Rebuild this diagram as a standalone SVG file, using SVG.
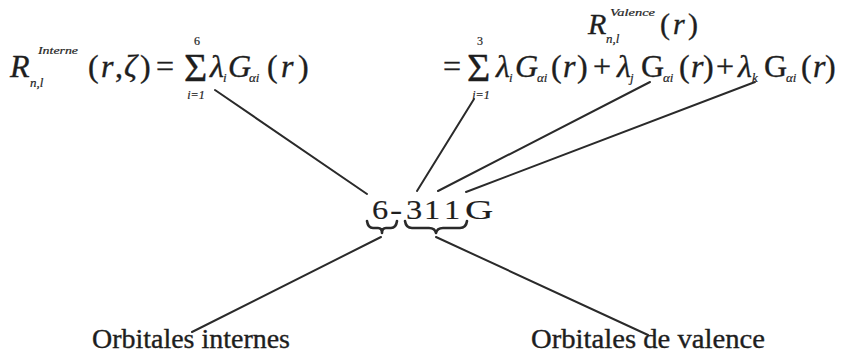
<svg xmlns="http://www.w3.org/2000/svg" width="845" height="353" viewBox="0 0 845 353">
<style>
text{font-family:"Liberation Serif","DejaVu Serif",serif;fill:#1e1e1e;stroke:#1e1e1e;stroke-width:0.35}
.it{font-style:italic}
.m{font-size:32px}
.sup{font-size:11px;font-style:italic;stroke-width:0.2}
.sub{font-size:13px;font-style:italic;stroke-width:0.2}
.lim{font-size:12px;stroke-width:0.2}
.sig{font-size:40px}
.lbl{font-size:27px}
.big{font-size:30px}
.c{font-size:27px;stroke-width:0.15}
.ln{stroke:#2a2a2a;stroke-width:2;fill:none;stroke-linecap:round}
.br{stroke:#2a2a2a;stroke-width:2.6;fill:none;stroke-linecap:round;stroke-linejoin:round}
</style>
<rect width="845" height="353" fill="#fff"/>
<g id="formula-interne">
<text class="m it" x="10" y="77">R</text>
<text class="sup" x="38" y="54" textLength="40" lengthAdjust="spacingAndGlyphs">Interne</text>
<text class="sub" x="30" y="87">n,l</text>
<text class="m" x="88" y="77">(</text>
<text class="m it" x="101" y="77">r</text>
<text class="m" x="115" y="77">,</text>
<text class="m it" x="124" y="77">ζ</text>
<text class="m" x="140" y="77">)</text>
<text class="m" x="156" y="77">=</text>
<text class="sig" x="184" y="81">Σ</text>
<text class="lim" x="197" y="45" text-anchor="middle">6</text>
<text class="lim it" x="196" y="99" text-anchor="middle">i=1</text>
<text class="m it" x="210" y="77">λ</text>
<text class="sub" x="223" y="82">i</text>
<text class="m it" x="228" y="77">G</text>
<text class="sub" x="249" y="82">αi</text>
<text class="m" x="267" y="77">(</text>
<text class="m it" x="281" y="77">r</text>
<text class="m" x="298" y="77">)</text>
</g>
<g id="formula-valence">
<text class="big it" x="588" y="34">R</text>
<text class="sup" x="610" y="16" textLength="45" lengthAdjust="spacingAndGlyphs">Valence</text>
<text class="sub" x="606" y="43">n,l</text>
<text class="big" x="660" y="34">(</text>
<text class="big it" x="673" y="34">r</text>
<text class="big" x="688" y="34">)</text>
<text class="m" x="443" y="77">=</text>
<text class="sig" x="467" y="81">Σ</text>
<text class="lim" x="480" y="45" text-anchor="middle">3</text>
<text class="lim it" x="481" y="99" text-anchor="middle">i=1</text>
<text class="m it" x="496" y="77">λ</text>
<text class="sub" x="509" y="82">i</text>
<text class="m it" x="515" y="77">G</text>
<text class="sub" x="537" y="82">αi</text>
<text class="m" x="551" y="77">(</text>
<text class="m it" x="563" y="77">r</text>
<text class="m" x="577" y="77">)</text>
<text class="m" x="593" y="77">+</text>
<text class="m it" x="617" y="77">λ</text>
<text class="sub" x="630" y="82">j</text>
<text class="m" x="641" y="77">G</text>
<text class="sub" x="663" y="82">αi</text>
<text class="m" x="679" y="77">(</text>
<text class="m it" x="691" y="77">r</text>
<text class="m" x="703" y="77">)</text>
<text class="m" x="716" y="77">+</text>
<text class="m it" x="738" y="77">λ</text>
<text class="sub" x="752" y="82">k</text>
<text class="m" x="764" y="77">G</text>
<text class="sub" x="786" y="82">αi</text>
<text class="m" x="801" y="77">(</text>
<text class="m it" x="813" y="77">r</text>
<text class="m" x="825" y="77">)</text>
</g>
<g id="basis-631G">
<text class="c" transform="translate(372,219) scale(1.2,1)">6</text>
<text class="c" transform="translate(390,219) scale(1.35,1)">-</text>
<text class="c" transform="translate(406,219) scale(1.2,1)">3</text>
<text class="c" transform="translate(424,219) scale(1.2,1)">1</text>
<text class="c" transform="translate(444,219) scale(1.2,1)">1</text>
<text class="c" transform="translate(465,219) scale(1.45,1)">G</text>
<path class="br" d="M367 221 Q368 228 373 228 L378 228 Q382 228 382 233 Q382 228 386 228 L391 228 Q396 228 397 221"/>
<path class="br" d="M405 221 Q406 228 412 228 L429 228 Q435 228 436 233 Q437 228 443 228 L460 228 Q466 228 467 221"/>
</g>
<g id="label-internes">
<text class="lbl" x="92" y="348" textLength="198" lengthAdjust="spacingAndGlyphs">Orbitales internes</text>
</g>
<g id="label-valence">
<text class="lbl" x="531" y="348" textLength="234" lengthAdjust="spacingAndGlyphs">Orbitales de valence</text>
</g>
<g id="connectors">
<line class="ln" x1="215" y1="90" x2="367" y2="194"/>
<line class="ln" x1="474" y1="99" x2="417" y2="191"/>
<line class="ln" x1="650" y1="82" x2="438" y2="191"/>
<line class="ln" x1="755" y1="82" x2="466" y2="192"/>
<line class="ln" x1="381" y1="237" x2="192" y2="332"/>
<line class="ln" x1="436" y1="237" x2="648" y2="335"/>
</g>
</svg>
